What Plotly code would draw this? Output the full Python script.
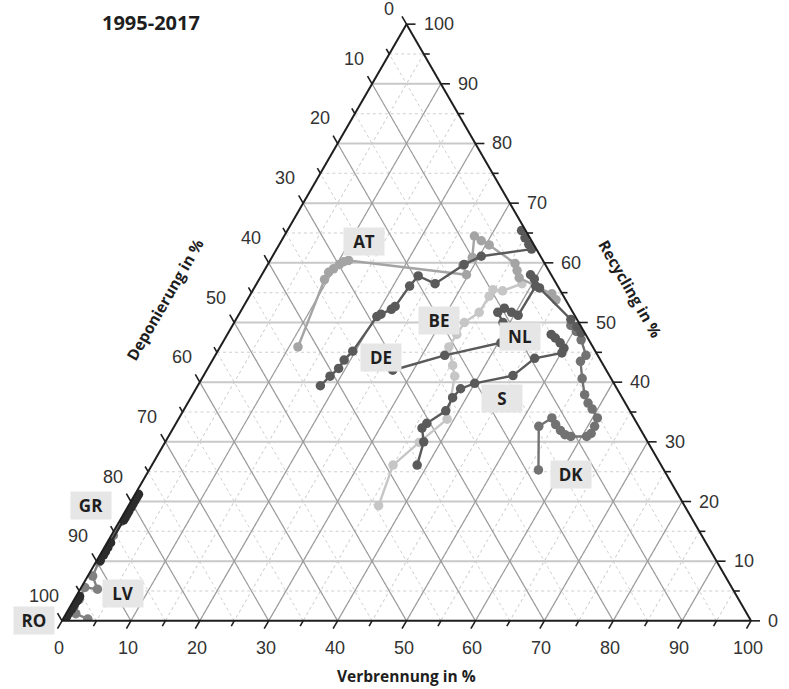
import math
import plotly.graph_objects as go

# ---------------- text ----------------
TITLE = "1995-2017"
AXIS_REC = "Recycling in %"
AXIS_DEP = "Deponierung in %"
AXIS_INC = "Verbrennung in %"

major_ticks = list(range(0, 101, 10))
all_ticks = list(range(0, 101, 5))

# ---------------- data (shares in %) ----------------
# Recycling (top), Deponierung (bottom-left), Verbrennung (bottom-right)
be_rec = [19.3, 26.1, 29.9, 33.8, 41.0, 42.8, 45.9, 48.0, 50.0, 51.7, 54.4, 55.5, 55.3, 56.5]
be_dep = [44.4, 38.9, 33.2, 27.2, 22.5, 21.9, 20.9, 18.7, 16.6, 13.6, 10.8, 9.7, 8.4, 5.0]
be_inc = [36.3, 35.0, 36.9, 39.0, 36.5, 35.3, 33.2, 33.3, 33.4, 34.7, 34.8, 34.8, 36.3, 38.5]

at_rec = [45.9, 57.2, 58.4, 59.0, 59.7, 60.2, 60.4, 58.0, 59.6, 60.9, 64.5, 63.7, 63.0, 59.9, 58.7, 57.5, 54.8, 53.8]
at_dep = [42.8, 33.3, 32.1, 31.1, 29.9, 29.0, 28.2, 12.3, 12.0, 10.0, 7.9, 7.3, 6.5, 4.3, 4.6, 4.9, 1.5, 1.4]
at_inc = [11.3, 9.5, 9.5, 9.9, 10.4, 10.8, 11.4, 29.7, 28.4, 29.1, 27.6, 29.0, 30.5, 35.8, 36.7, 37.6, 43.7, 44.8]

dk_rec = [25.3, 32.6, 34.0, 32.9, 31.9, 31.2, 30.9, 30.9, 31.4, 32.6, 34.0, 35.5, 36.5, 37.9, 40.6, 43.5, 44.5, 47.1, 48.5, 49.5]
dk_dep = [18.2, 14.5, 11.9, 11.9, 11.7, 11.4, 10.7, 8.4, 7.5, 6.4, 5.3, 5.3, 5.4, 5.2, 4.2, 3.0, 1.7, 1.1, 1.1, 1.4]
dk_inc = [56.5, 52.9, 54.1, 55.2, 56.4, 57.4, 58.4, 60.7, 61.1, 61.0, 60.7, 59.2, 58.1, 56.9, 55.2, 53.5, 53.8, 51.8, 50.4, 49.1]

lv_rec = [0.3, 1.2, 3.6, 5.6, 5.3, 7.5, 9.9, 12.1, 14.3, 16.7]
lv_dep = [96.1, 97.4, 95.7, 93.9, 92.2, 91.8, 89.7, 87.5, 85.4, 83.0]
lv_inc = [3.6, 1.4, 0.7, 0.5, 2.5, 0.7, 0.4, 0.4, 0.3, 0.3]

de_rec = [39.4, 41.0, 42.3, 43.7, 45.2, 51.0, 51.4, 52.2, 52.7, 56.1, 57.8, 56.5, 59.7, 61.1, 62.3, 63.1, 64.2, 65.4]
de_dep = [42.8, 40.6, 38.7, 37.2, 35.2, 28.8, 28.0, 26.1, 25.3, 21.5, 19.4, 17.6, 11.8, 8.6, 0.7, 0.7, 0.7, 0.6]
de_inc = [17.8, 18.4, 19.0, 19.1, 19.6, 20.2, 20.6, 21.7, 22.0, 22.4, 22.8, 25.9, 28.5, 30.3, 37.0, 36.2, 35.1, 34.0]

nl_rec = [42.0, 44.5, 46.6, 50.0, 51.7, 52.4, 51.7, 51.2, 56.1, 58.0, 57.3, 55.8, 50.5, 49.3, 48.3]
nl_dep = [31.0, 22.2, 13.0, 11.0, 10.9, 9.6, 8.9, 8.2, 3.2, 3.0, 2.8, 2.8, 0.9, 0.6, 0.5]
nl_inc = [27.0, 33.3, 40.4, 39.0, 37.4, 38.0, 39.4, 40.6, 40.7, 39.0, 39.9, 41.4, 48.6, 50.1, 51.2]

s_rec = [26.1, 30.0, 32.3, 33.1, 35.2, 37.4, 38.9, 39.8, 41.1, 44.0, 44.9, 45.7, 46.6, 47.4, 48.0]
s_dep = [35.4, 32.5, 31.6, 30.5, 26.7, 24.6, 22.7, 20.2, 14.0, 9.4, 5.0, 4.3, 4.4, 4.7, 5.0]
s_inc = [38.5, 37.5, 36.1, 36.4, 38.1, 38.0, 38.4, 40.0, 44.9, 46.6, 50.1, 50.0, 49.0, 47.9, 47.0]

gr_rec = [10.1, 11.0, 11.6, 12.3, 13.1, 16.9, 17.4, 17.9, 18.4, 19.0, 19.6, 20.2, 20.7, 21.2]
gr_dep = [89.4, 88.5, 87.9, 87.2, 86.4, 82.6, 82.1, 81.6, 81.1, 80.5, 79.9, 79.3, 78.8, 78.3]
gr_inc = [0.5, 0.5, 0.5, 0.5, 0.5, 0.5, 0.5, 0.5, 0.5, 0.5, 0.5, 0.5, 0.5, 0.5]

ro_rec = [0.2, 0.6, 1.0, 1.5, 2.0, 2.5, 3.0, 3.4, 3.8, 4.1]
ro_dep = [99.6, 99.1, 98.7, 98.2, 97.6, 97.1, 96.6, 96.1, 95.7, 95.4]
ro_inc = [0.2, 0.3, 0.3, 0.3, 0.4, 0.4, 0.4, 0.5, 0.5, 0.5]

# ---------------- styles ----------------
series = [
    ("BE", be_rec, be_dep, be_inc, "#c6c6c6"),
    ("AT", at_rec, at_dep, at_inc, "#a4a4a4"),
    ("LV", lv_rec, lv_dep, lv_inc, "#808080"),
    ("DK", dk_rec, dk_dep, dk_inc, "#727272"),
    ("DE", de_rec, de_dep, de_inc, "#5a5a5a"),
    ("NL", nl_rec, nl_dep, nl_inc, "#5a5a5a"),
    ("S", s_rec, s_dep, s_inc, "#5a5a5a"),
    ("GR", gr_rec, gr_dep, gr_inc, "#2c2c2c"),
    ("RO", ro_rec, ro_dep, ro_inc, "#2c2c2c"),
]

# label anchor positions (recycling, incineration) in ternary units
label_pos = {
    "AT": (63.5, 12.1), "BE": (50.3, 29.6), "DE": (44.2, 24.2), "NL": (47.6, 42.7),
    "S": (37.2, 45.2), "DK": (24.6, 61.6), "GR": (19.3, -5.4), "LV": (4.6, 6.5),
    "RO": (0.0, -4.1),
}

# ---------------- geometry ----------------
FW, FH = 789, 689
ML, MR, MT, MB = 62, 38, 24, 68
PW, PH = FW - ML - MR, FH - MT - MB
W = min(PW, PH * 2 / math.sqrt(3))
H = W * math.sqrt(3) / 2
X0 = ML + PW / 2 - W / 2
Y0 = MT + PH / 2 - H / 2


def to_px(a, c):
    return X0 + (c + a / 2) / 100 * W, Y0 + H * (1 - a / 100)


def to_paper(x, y):
    return (x - ML) / PW, 1 - (y - MT) / PH


fig = go.Figure()

# major grid lines (solid) every 10
major_inner = [v for v in major_ticks if 0 < v < 100]
ha, hb, hc = [], [], []
for v in major_inner:
    ha += [v, v, None]; hb += [100 - v, 0, None]; hc += [0, 100 - v, None]
fig.add_trace(go.Scatterternary(a=ha, b=hb, c=hc, mode="lines", hoverinfo="skip",
                                line=dict(color="#c9c9c9", width=2)))
da, db, dc = [], [], []
for v in major_inner:
    da += [100 - v, 0, None]; db += [v, v, None]; dc += [0, 100 - v, None]
    da += [100 - v, 0, None]; db += [0, 100 - v, None]; dc += [v, v, None]
fig.add_trace(go.Scatterternary(a=da, b=db, c=dc, mode="lines", hoverinfo="skip",
                                line=dict(color="#9c9c9c", width=1.2)))

for name, rec, dep, inc, col in series:
    fig.add_trace(go.Scatterternary(
        a=rec, b=dep, c=inc, mode="lines+markers", name=name,
        line=dict(color=col, width=2.4),
        marker=dict(color=col, size=9.5, line=dict(width=0)),
    ))

tickfont = dict(family="Arial, Liberation Sans", size=18, color="#333333")

axis_style = dict(
    tickmode="array", tickvals=all_ticks, showticklabels=False, ticks="",
    linecolor="#1e1e1e", linewidth=2,
    showgrid=True, gridcolor="#cfcfcf", griddash="dot", gridwidth=1,
    title=dict(text=""),
)

fig.update_layout(
    width=FW, height=FH, margin=dict(l=ML, r=MR, t=MT, b=MB, autoexpand=False),
    paper_bgcolor="white", showlegend=False,
    ternary=dict(sum=100, bgcolor="white", domain=dict(x=[0, 1], y=[0, 1]),
                 aaxis=axis_style, baxis=axis_style, caxis=axis_style),
)

# ---------------- tick marks (shapes) ----------------
shapes = []
tick_dirs = {
    "left": (-0.5, -0.866),   # extends lines of constant Deponierung
    "bottom": (-0.5, 0.866),  # extends lines of constant Verbrennung
    "right": (1.0, 0.0),      # extends lines of constant Recycling
}
for v in all_ticks:
    L = 9 if v % 10 == 0 else 6
    for side, (ax, ay) in tick_dirs.items():
        if side == "left":
            x, y = to_px(100 - v, 0)
        elif side == "bottom":
            x, y = to_px(0, v)
        else:
            x, y = to_px(v, 100 - v)
        p0 = to_paper(x, y); p1 = to_paper(x + ax * L, y + ay * L)
        shapes.append(dict(type="line", xref="paper", yref="paper", x0=p0[0], y0=p0[1],
                           x1=p1[0], y1=p1[1], line=dict(color="#1e1e1e", width=1.6)))

ann = []
# tick labels
for v in major_ticks:
    # left edge: Deponierung
    x, y = to_px(100 - v, 0)
    xp, yp = to_paper(x - 18, max(y - 25, 9))
    ann.append(dict(x=xp, y=yp, xref="paper", yref="paper", text=str(v), showarrow=False,
                    xanchor="center", yanchor="middle", font=tickfont))
    # bottom edge: Verbrennung
    x, y = to_px(0, v)
    xp, yp = to_paper(x - 3, y + 27)
    ann.append(dict(x=xp, y=yp, xref="paper", yref="paper", text=str(v), showarrow=False,
                    xanchor="center", yanchor="middle", font=tickfont))
    # right edge: Recycling
    x, y = to_px(v, 100 - v)
    xp, yp = to_paper(x + 15, y)
    ann.append(dict(x=xp, y=yp, xref="paper", yref="paper", text=str(v), showarrow=False,
                    xanchor="left", yanchor="middle", font=tickfont))

boldfont = dict(family="Open Sans", size=15.5, color="#1e1e1e")
bl = (X0, Y0 + H); br = (X0 + W, Y0 + H); top = (X0 + W / 2, Y0)
px_ = bl[0] + 0.478 * (top[0] - bl[0]) - 72 * 0.866
py_ = bl[1] + 0.478 * (top[1] - bl[1]) - 72 * 0.5
xp, yp = to_paper(px_, py_)
ann.append(dict(x=xp, y=yp, xref="paper", yref="paper", text="<b>" + AXIS_DEP + "</b>",
                showarrow=False, textangle=-60, font=boldfont, xanchor="center", yanchor="middle"))
px_ = br[0] + 0.505 * (top[0] - br[0]) + 62 * 0.866
py_ = br[1] + 0.505 * (top[1] - br[1]) - 62 * 0.5
xp, yp = to_paper(px_, py_)
ann.append(dict(x=xp, y=yp, xref="paper", yref="paper", text="<b>" + AXIS_REC + "</b>",
                showarrow=False, textangle=60, font=boldfont, xanchor="center", yanchor="middle"))
xp, yp = to_paper(X0 + W / 2, 676)
ann.append(dict(x=xp, y=yp, xref="paper", yref="paper", text="<b>" + AXIS_INC + "</b>",
                showarrow=False, font=boldfont, xanchor="center", yanchor="middle"))
xp, yp = to_paper(151, 23)
ann.append(dict(x=xp, y=yp, xref="paper", yref="paper", text="<b>" + TITLE + "</b>",
                showarrow=False, font=dict(family="Open Sans", size=20, color="#1e1e1e"),
                xanchor="center", yanchor="middle"))

# country labels
for name, (a, c) in label_pos.items():
    x, y = to_px(a, c)
    xp, yp = to_paper(x, y)
    ann.append(dict(x=xp, y=yp, xref="paper", yref="paper", text="<b>" + name + "</b>",
                    showarrow=False, bgcolor="#e6e6e6", width=38, height=25, borderpad=1,
                    font=dict(family="Open Sans", size=17, color="#1e1e1e"),
                    xanchor="center", yanchor="middle"))

fig.update_layout(annotations=ann, shapes=shapes)
fig.write_html("out.html", config={"displayModeBar": False},
               post_script="document.body.style.margin='0px';")
